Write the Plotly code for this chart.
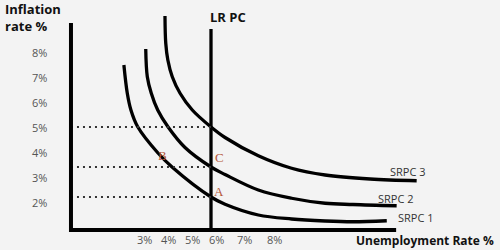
import plotly.graph_objects as go

# ---- data ----
srpc1_u = [2.65, 2.78, 2.92, 3.18, 3.96, 4.49, 6.0, 6.54, 7.82, 9.10, 10.39, 11.46, 12.76]
srpc1_i = [7.48, 6.35, 5.68, 5.01, 3.96, 3.41, 2.2, 1.91, 1.48, 1.32, 1.24, 1.21, 1.25]
srpc2_u = [3.49, 3.55, 3.70, 3.95, 4.35, 5.0, 6.0, 6.54, 7.82, 9.10, 10.39, 11.46, 13.14]
srpc2_i = [8.12, 7.01, 6.36, 5.68, 5.0, 4.18, 3.4, 3.1, 2.48, 2.15, 1.95, 1.9, 1.85]
srpc3_u = [4.23, 4.26, 4.34, 4.51, 4.81, 5.28, 6.0, 6.54, 7.82, 9.10, 10.39, 12.12, 13.91]
srpc3_i = [9.44, 8.35, 7.68, 7.01, 6.35, 5.68, 5.0, 4.58, 3.85, 3.35, 3.08, 2.92, 2.85]
lrpc_u = 6.0
lrpc_top = 8.92
dotted_levels = [5.0, 3.4, 2.2]
y_tick_values = [2, 3, 4, 5, 6, 7, 8]
y_tick_labels = ["2%", "3%", "4%", "5%", "6%", "7%", "8%"]
x_tick_labels = ["3%", "4%", "5%", "6%", "7%", "8%"]
curve_names = ["SRPC 1", "SRPC 2", "SRPC 3"]
point_labels = ["A", "B", "C"]

# ---- layout helpers (positions in axis units) ----
axis_x = 0.615
axis_y = 0.88
x_tick_pos = [3.46, 4.35, 5.27, 6.23, 7.27, 8.46]
x_tick_y = 0.52
y_tick_x = -0.58

fig = go.Figure()
line_style = dict(color="black", width=3.3, shape="spline", smoothing=1.0)
for u, i in [(srpc1_u, srpc1_i), (srpc2_u, srpc2_i), (srpc3_u, srpc3_i)]:
    fig.add_trace(go.Scatter(x=u, y=i, mode="lines", line=line_style, hoverinfo="skip"))

# LR PC
fig.add_trace(go.Scatter(x=[lrpc_u, lrpc_u], y=[axis_y, lrpc_top], mode="lines",
                         line=dict(color="black", width=3.3), hoverinfo="skip"))
# dotted guide lines
for lv in dotted_levels:
    fig.add_trace(go.Scatter(x=[axis_x, lrpc_u], y=[lv, lv], mode="lines",
                             line=dict(color="#333", width=2, dash="2px,4px"),
                             hoverinfo="skip"))

# axes frame
fig.add_shape(type="line", x0=axis_x, x1=axis_x, y0=0.80, y1=9.16,
              line=dict(color="black", width=4))
fig.add_shape(type="line", x0=0.54, x1=13.12, y0=axis_y, y1=axis_y,
              line=dict(color="black", width=4))

ann = []
tick_font = dict(family="Open Sans", size=11, color="#555")
for v, t in zip(y_tick_values, y_tick_labels):
    ann.append(dict(x=y_tick_x, y=v, text=t, showarrow=False, font=tick_font,
                    xanchor="center", yanchor="middle"))
for p, t in zip(x_tick_pos, x_tick_labels):
    ann.append(dict(x=p, y=x_tick_y, text=t, showarrow=False, font=tick_font,
                    xanchor="center", yanchor="middle"))

bold = dict(family="Open Sans", size=13, color="#111", weight="bold")
ann.append(dict(x=-2.0, y=9.4, text="Inflation<br>rate %", showarrow=False, font=bold,
                xanchor="left", yanchor="middle", align="left"))
ann.append(dict(x=6.65, y=9.4, text="LR PC", showarrow=False, font=bold,
                xanchor="center", yanchor="middle"))
ann.append(dict(x=16.95, y=0.48, text="Unemployment Rate %", showarrow=False,
                font=dict(family="Open Sans", size=12, color="#111", weight="bold"),
                xanchor="right", yanchor="middle"))

lab_font = dict(family="Open Sans", size=11, color="#333")
for name, (lx, ly) in zip(curve_names, [(13.12, 1.4), (12.35, 2.16), (12.81, 3.24)]):
    ann.append(dict(x=lx, y=ly, text=name, showarrow=False, font=lab_font,
                    xanchor="left", yanchor="middle"))

pt_font = dict(family="Liberation Serif", size=13, color="#b5573a")
for name, (px, py) in zip(point_labels, [(6.31, 2.44), (4.15, 3.88), (6.31, 3.8)]):
    ann.append(dict(x=px, y=py, text=name, showarrow=False, font=pt_font,
                    xanchor="center", yanchor="middle"))

fig.update_layout(
    width=500, height=250, margin=dict(l=0, r=0, t=0, b=0),
    paper_bgcolor="#f3f3f3", plot_bgcolor="#f3f3f3",
    showlegend=False, annotations=ann,
    xaxis=dict(range=[-2.115, 17.115], visible=False, fixedrange=True),
    yaxis=dict(range=[0.08, 10.08], visible=False, fixedrange=True),
)
fig.write_html("out.html")
